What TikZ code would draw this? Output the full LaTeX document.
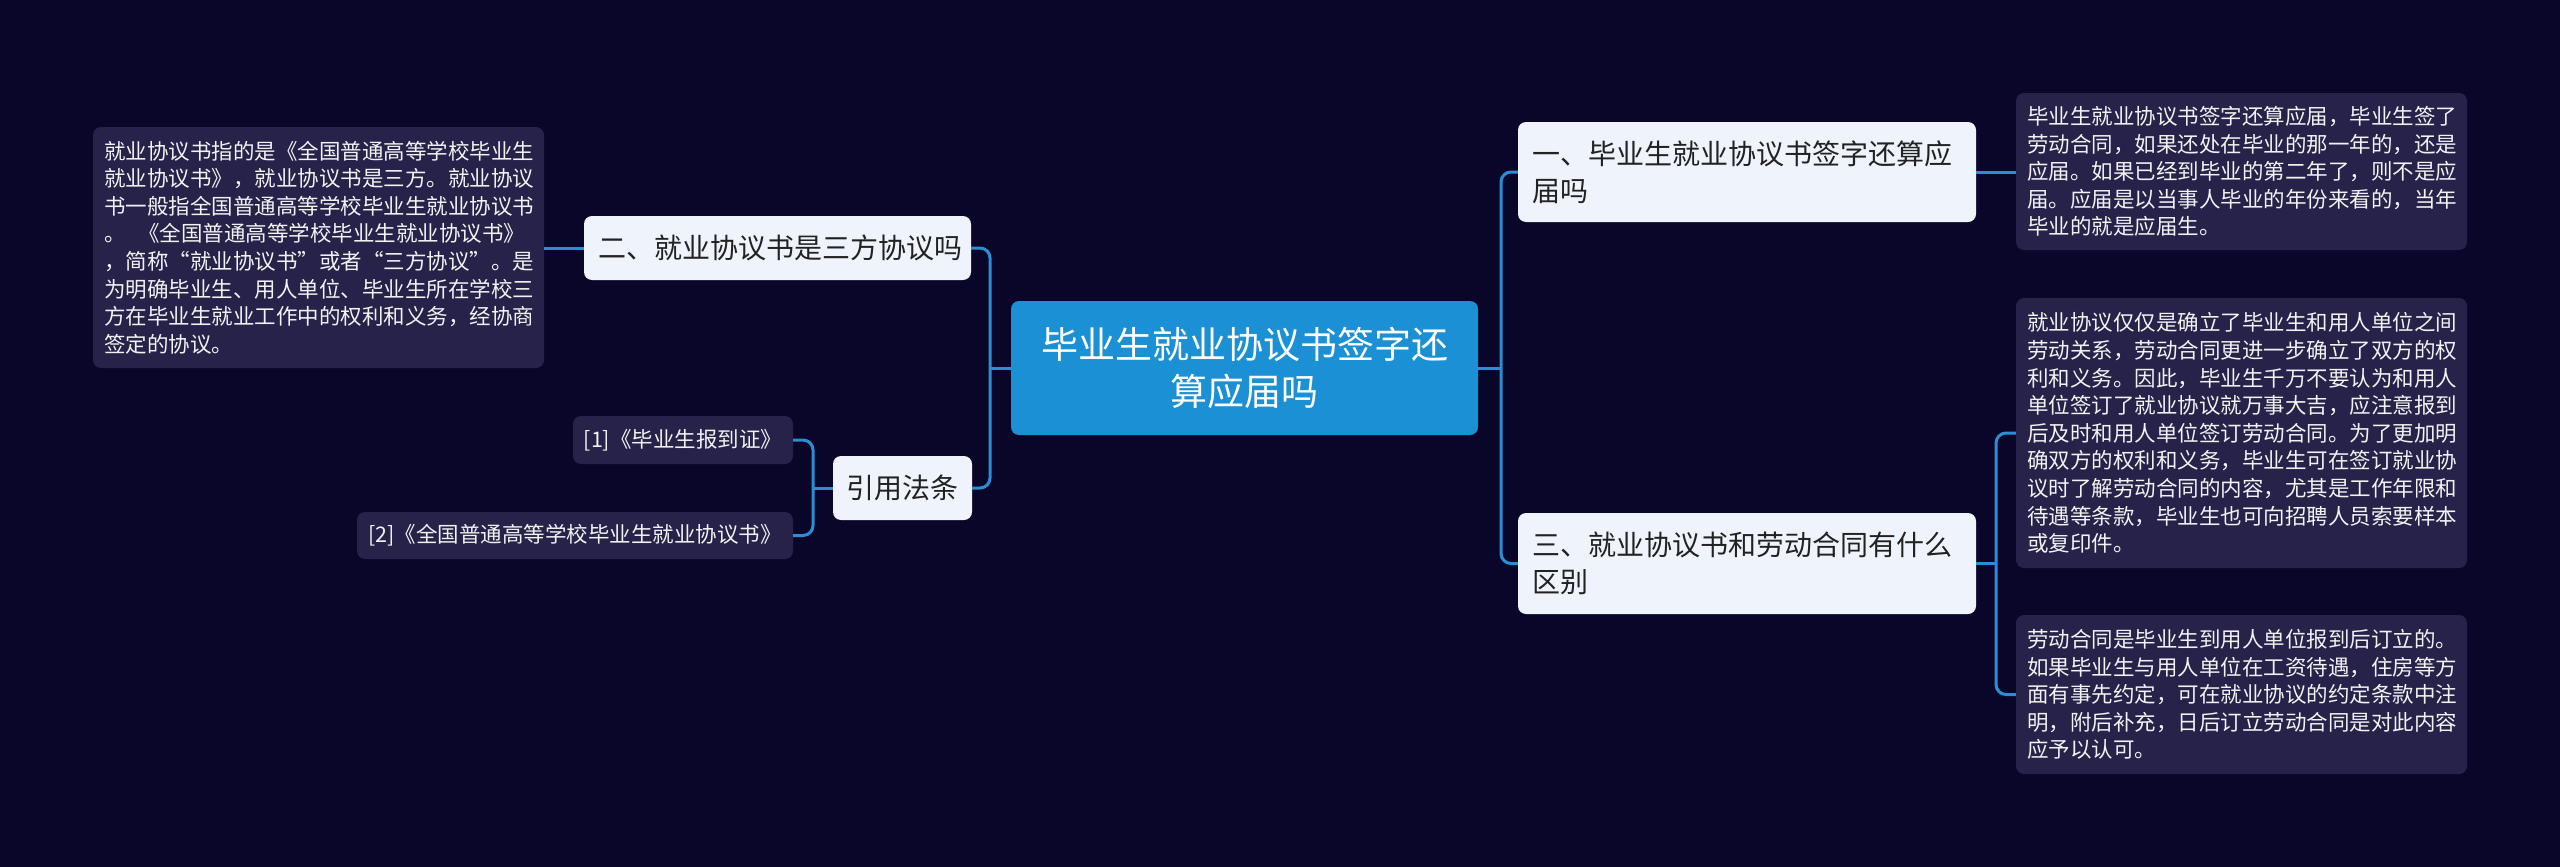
\documentclass[tikz,border=0pt]{standalone}
\usepackage{fontspec}
\newfontfamily\cjk{Noto Sans CJK SC}
\definecolor{bgc}{HTML}{0A0629}
\definecolor{detailc}{HTML}{262249}
\definecolor{lightc}{HTML}{EEF3FC}
\definecolor{rootc}{HTML}{1B90D4}
\definecolor{linec}{HTML}{2B8DD3}
\definecolor{darktext}{HTML}{222222}
\definecolor{lighttext}{HTML}{F2F2F2}
\begin{document}
\begin{tikzpicture}[x=1pt,y=-1pt,
  rootbox/.style={fill=rootc, rounded corners=8pt, text=white, align=center,
    font=\cjk\fontsize{37pt}{47pt}\selectfont, inner sep=0pt},
  lvlbox/.style={fill=lightc, rounded corners=8pt, text=darktext, align=left,
    font=\cjk\fontsize{28pt}{37pt}\selectfont, inner xsep=14pt, inner ysep=0pt},
  detbox/.style={fill=detailc, rounded corners=8pt, text=lighttext, align=left,
    font=\cjk\fontsize{21.5pt}{27.6pt}\selectfont, inner xsep=11pt, inner ysep=0pt,
    text width=429pt},
  refbox/.style={fill=detailc, rounded corners=8pt, text=lighttext, align=center,
    font=\cjk\fontsize{21.5pt}{27pt}\selectfont, inner sep=0pt},
  conn/.style={draw=linec, line width=3pt, rounded corners=10pt}]
\useasboundingbox (0,0) rectangle (2560,867);
\fill[bgc] (0,0) rectangle (2560,867);

% root
\node[rootbox, minimum width=467pt, minimum height=134pt] (root) at (1244.5,368)
  {毕业生就业协议书签字还\\算应届吗};

% level 1
\node[lvlbox, text width=430pt, minimum height=100pt] (one) at (1747,172)
  {一、毕业生就业协议书签字还算应\\届吗};
\node[lvlbox, text width=430pt, minimum height=101pt] (three) at (1747,563.5)
  {三、就业协议书和劳动合同有什么\\区别};
\node[lvlbox, text width=359pt, minimum height=64pt] (two) at (777.5,248)
  {二、就业协议书是三方协议吗};
\node[lvlbox, align=center, inner xsep=0pt, minimum width=139pt, minimum height=64pt] (cite) at (902.5,488)
  {引用法条};

% details
\node[detbox, minimum height=241pt] (dl) at (318.5,247.5)
  {就业协议书指的是《全国普通高等学校毕业生\\就业协议书》，就业协议书是三方。就业协议\\书一般指全国普通高等学校毕业生就业协议书\\。\hspace{0.6em}《全国普通高等学校毕业生就业协议书》\\，简称“就业协议书”或者“三方协议”。是\\为明确毕业生、用人单位、毕业生所在学校三\\方在毕业生就业工作中的权利和义务，经协商\\签定的协议。};
\node[detbox, minimum height=157pt] (d1) at (2241.5,171.5)
  {毕业生就业协议书签字还算应届，毕业生签了\\劳动合同，如果还处在毕业的那一年的，还是\\应届。如果已经到毕业的第二年了，则不是应\\届。应届是以当事人毕业的年份来看的，当年\\毕业的就是应届生。};
\node[detbox, minimum height=270pt] (d2) at (2241.5,433)
  {就业协议仅仅是确立了毕业生和用人单位之间\\劳动关系，劳动合同更进一步确立了双方的权\\利和义务。因此，毕业生千万不要认为和用人\\单位签订了就业协议就万事大吉，应注意报到\\后及时和用人单位签订劳动合同。为了更加明\\确双方的权利和义务，毕业生可在签订就业协\\议时了解劳动合同的内容，尤其是工作年限和\\待遇等条款，毕业生也可向招聘人员索要样本\\或复印件。};
\node[detbox, minimum height=159pt] (d3) at (2241.5,694.5)
  {劳动合同是毕业生到用人单位报到后订立的。\\如果毕业生与用人单位在工资待遇，住房等方\\面有事先约定，可在就业协议的约定条款中注\\明，附后补充，日后订立劳动合同是对此内容\\应予以认可。};

% references
\node[refbox, minimum width=220pt, minimum height=48pt] (r1) at (683,440)
  {[1]《毕业生报到证》};
\node[refbox, minimum width=436pt, minimum height=47pt] (r2) at (575,535.5)
  {[2]《全国普通高等学校毕业生就业协议书》};

% junctions
\coordinate (sl) at (990,368);
\coordinate (sr) at (1501,368);
\coordinate (s3) at (1996,563.5);
\coordinate (sc) at (813,488);

% connectors
\draw[conn] (two.east) -| (sl) |- (cite.east);
\draw[conn] (root.west) -- (sl);
\draw[conn] (one.west) -| (sr) |- (three.west);
\draw[conn] (root.east) -- (sr);
\draw[conn] (one.east) -- (d1.west |- one.east);
\draw[conn] (d2.west) -| (s3) |- (d3.west);
\draw[conn] (three.east) -- (s3);
\draw[conn] (two.west) -- (dl.east |- two.west);
\draw[conn] (r1.east) -| (sc) |- (r2.east);
\draw[conn] (cite.west) -- (sc);
\end{tikzpicture}
\end{document}
